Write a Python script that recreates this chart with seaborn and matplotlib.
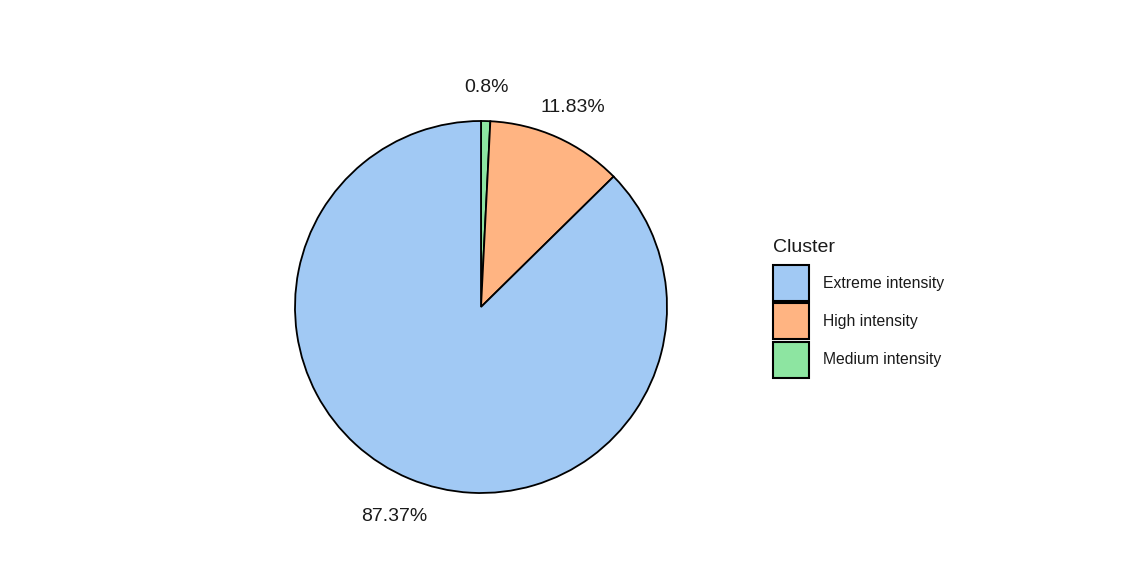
import matplotlib
matplotlib.use("Agg")
import matplotlib.pyplot as plt
import matplotlib.transforms as mtransforms
from matplotlib.patches import Patch
import seaborn as sns

sns.set_theme(style="white")
plt.rcParams['font.family'] = ['Liberation Sans', 'DejaVu Sans']

clusters = ["Medium intensity", "High intensity", "Extreme intensity"]
shares = [0.8, 11.83, 87.37]
legend_order = ["Extreme intensity", "High intensity", "Medium intensity"]
legend_title = "Cluster"

pal = sns.color_palette("pastel")
colors = {"Extreme intensity": pal[0], "High intensity": pal[1], "Medium intensity": pal[2]}

W, H = 1148, 587
fig = plt.figure(figsize=(W / 100, H / 100), dpi=100)
R = 186.0
cx, cy = 481, 307
S = 560
ax = fig.add_axes([(cx - S / 2) / W, (H - cy - S / 2) / H, S / W, S / H])
lim = S / 2 / R

wedges, texts = ax.pie(
    shares,
    colors=[colors[c] for c in clusters],
    startangle=90,
    counterclock=False,
    radius=1.0,
    labels=[f"{v}%" for v in shares],
    labeldistance=1.2,
    wedgeprops=dict(edgecolor="black", linewidth=1.3),
    textprops=dict(fontsize=14, color="#1a1a1a"),
)
shift = mtransforms.ScaledTranslation(0, -4 / 100, fig.dpi_scale_trans)
for t in texts:
    t.set_ha("center")
    t.set_va("center")
    t.set_transform(t.get_transform() + shift)
ax.set_xlim(-lim, lim)
ax.set_ylim(-lim, lim)
ax.set_aspect("equal")
ax.axis("off")

fs = 11.3
fig.text(773 / W, 1 - 247 / H, legend_title, fontsize=14, color="#1a1a1a",
         ha="left", va="center")

handles = [Patch(facecolor=colors[c], edgecolor="black", linewidth=1.5, label=c) for c in legend_order]
leg = fig.legend(
    handles=handles,
    loc="upper left",
    bbox_to_anchor=(773 / W, 1 - 265 / H),
    frameon=False,
    fontsize=fs,
    handlelength=2.29,
    handleheight=3.15,
    labelspacing=0.15,
    handletextpad=0.9,
    borderpad=0,
    borderaxespad=0,
)
for t in leg.get_texts():
    t.set_color("#1a1a1a")

fig.savefig("out.png", dpi=100, facecolor="white")
